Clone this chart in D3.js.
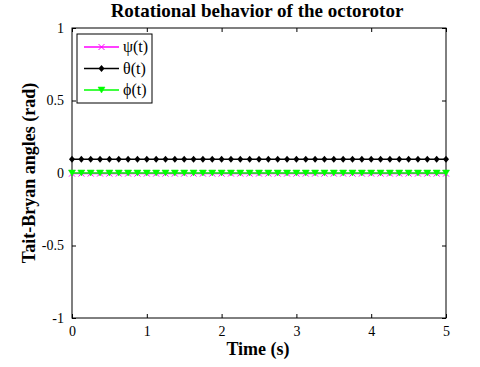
<!DOCTYPE html>
<html>
<head>
<meta charset="utf-8">
<script src="https://d3js.org/d3.v7.min.js"></script>
<style>
  body { margin: 0; background: #fff; }
  text { font-family: "Liberation Serif", "Times New Roman", serif; }
</style>
</head>
<body>
<script>
// data
var time = d3.range(0, 41).map(function(i) { return i * 0.125; });
var psiVals = time.map(function() { return -0.004; });
var thetaVals = time.map(function() { return 0.095; });
var phiVals = time.map(function() { return 0; });
var xTicks = [0, 1, 2, 3, 4, 5];
var yTicks = [-1, -0.5, 0, 0.5, 1];
var series = [
  { name: "\u03c8(t)", values: psiVals, color: "#ff00ff", marker: "x" },
  { name: "\u03b8(t)", values: thetaVals, color: "#000000", marker: "dot" },
  { name: "\u03d5(t)", values: phiVals, color: "#00ff00", marker: "tri" }
];

var W = 480, H = 367;
var pLeft = 72, pRight = 446, pTop = 28, pBottom = 318;

var svg = d3.select("body").append("svg")
  .attr("width", W).attr("height", H);

var x = d3.scaleLinear().domain([0, 5]).range([pLeft, pRight]);
var y = d3.scaleLinear().domain([-1, 1]).range([pBottom, pTop]);

// axes
svg.append("g").attr("transform", "translate(0," + pBottom + ")")
  .call(d3.axisBottom(x).tickValues(xTicks).tickSizeInner(-4).tickSizeOuter(0).tickPadding(8).tickFormat(d3.format("d")))
  .call(function(g) {
    g.select(".domain").remove();
    g.selectAll("line").attr("stroke", "#000");
    g.selectAll("text").attr("font-size", 14).attr("fill", "#000");
  });
svg.append("g").attr("transform", "translate(" + pLeft + ",0)")
  .call(d3.axisLeft(y).tickValues(yTicks).tickSizeInner(-4).tickSizeOuter(0).tickPadding(8).tickFormat(function(d) { return d === 0 ? "0" : d; }))
  .call(function(g) {
    g.select(".domain").remove();
    g.selectAll("line").attr("stroke", "#000");
    g.selectAll("text").attr("font-size", 14).attr("fill", "#000");
  });
// top and right ticks
svg.append("g").attr("transform", "translate(0," + pTop + ")")
  .call(d3.axisTop(x).tickValues(xTicks).tickSizeInner(-4).tickSizeOuter(0).tickFormat(""))
  .call(function(g) { g.select(".domain").remove(); g.selectAll("line").attr("stroke", "#000"); });
svg.append("g").attr("transform", "translate(" + pRight + ",0)")
  .call(d3.axisRight(y).tickValues(yTicks).tickSizeInner(-4).tickSizeOuter(0).tickFormat(""))
  .call(function(g) { g.select(".domain").remove(); g.selectAll("line").attr("stroke", "#000"); });

svg.append("rect")
  .attr("x", pLeft).attr("y", pTop)
  .attr("width", pRight - pLeft).attr("height", pBottom - pTop)
  .attr("fill", "none").attr("stroke", "#000").attr("stroke-width", 1);

function drawMarker(g, type, color, cx, cy) {
  if (type === "x") {
    g.append("path")
      .attr("d", "M" + (cx - 3) + "," + (cy - 3) + "L" + (cx + 3) + "," + (cy + 3) +
        "M" + (cx - 3) + "," + (cy + 3) + "L" + (cx + 3) + "," + (cy - 3))
      .attr("stroke", color).attr("stroke-width", 1);
  } else if (type === "dot") {
    g.append("path")
      .attr("d", "M" + cx + "," + (cy - 3.5) + "L" + (cx + 3) + "," + cy + "L" + cx + "," + (cy + 3.5) + "L" + (cx - 3) + "," + cy + "Z")
      .attr("fill", color);
  } else {
    g.append("path")
      .attr("d", "M" + (cx - 3.5) + "," + (cy - 3) + "L" + (cx + 3.5) + "," + (cy - 3) + "L" + cx + "," + (cy + 3) + "Z")
      .attr("fill", color).attr("stroke", color).attr("stroke-width", 0.5);
  }
}

var line = d3.line().x(function(d, i) { return x(time[i]); }).y(function(d) { return y(d); });

series.forEach(function(s) {
  var g = svg.append("g");
  g.append("path").datum(s.values)
    .attr("d", line).attr("fill", "none")
    .attr("stroke", s.color).attr("stroke-width", 1.5);
  s.values.forEach(function(v, i) {
    drawMarker(g, s.marker, s.color, x(time[i]), y(v));
  });
});

// legend
var lg = svg.append("g");
lg.append("rect").attr("x", 77).attr("y", 34).attr("width", 75).attr("height", 69)
  .attr("fill", "#fff").attr("stroke", "#000").attr("stroke-width", 1);
series.forEach(function(s, i) {
  var ly = 47 + i * 21.5;
  lg.append("line").attr("x1", 84).attr("x2", 119).attr("y1", ly).attr("y2", ly)
    .attr("stroke", s.color).attr("stroke-width", 1.5);
  drawMarker(lg, s.marker, s.color, 101.5, ly);
  lg.append("text").attr("x", 123).attr("y", ly + 5)
    .attr("font-size", 16).attr("fill", "#000").text(s.name);
});

// titles
svg.append("text").attr("x", 257).attr("y", 17).attr("text-anchor", "middle")
  .attr("font-size", 19).attr("font-weight", "bold").text("Rotational behavior of the octorotor");
svg.append("text").attr("x", 258).attr("y", 355).attr("text-anchor", "middle")
  .attr("font-size", 18).attr("font-weight", "bold").text("Time (s)");
svg.append("text").attr("transform", "translate(35," + ((pTop + pBottom) / 2) + ") rotate(-90)")
  .attr("text-anchor", "middle")
  .attr("font-size", 18).attr("font-weight", "bold").text("Tait-Bryan angles (rad)");
</script>
</body>
</html>
